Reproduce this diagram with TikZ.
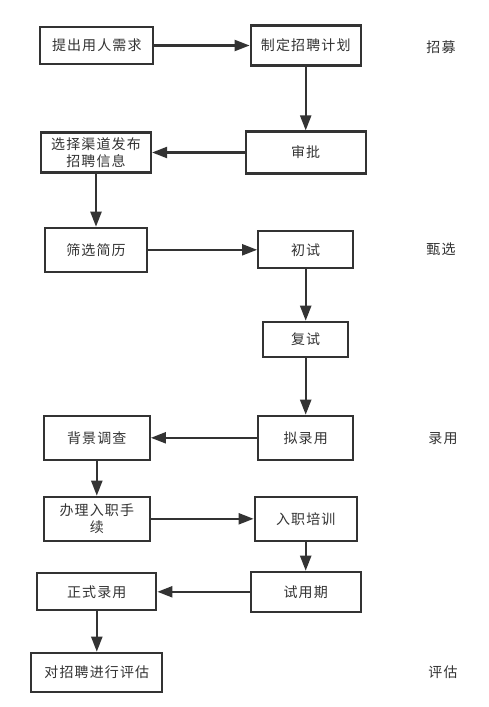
\documentclass[tikz,border=0pt]{standalone}
\usepackage{fontspec}
\newfontfamily\cjk[LetterSpace=8]{Noto Sans CJK SC}
\usetikzlibrary{arrows.meta}
\definecolor{ink}{HTML}{333333}
\begin{document}
\begin{tikzpicture}[x=1pt,y=-1pt,
  box/.style={draw=ink, line width=2.2pt, text=ink, align=center, inner sep=0pt,
    font=\cjk\fontsize{14}{17}\selectfont},
  stage/.style={text=ink, font=\cjk\fontsize{14}{17}\selectfont},
  flow/.style={draw=ink, line width=2.2pt, -{Triangle[length=15pt,width=11pt]}}]
\useasboundingbox[fill=white] (0,0) rectangle (489,707);
% recruiting
\node[box, minimum width=113, minimum height=37] (need) at (96.8,45.5){提出用人需求};
\node[box, minimum width=110, minimum height=40] (plan) at (305.7,45.5){制定招聘计划};
\node[box, minimum width=120, minimum height=42] (approve) at (305.7,152.5){审批};
\node[box, minimum width=110, minimum height=40] (publish) at (96,152.5){选择渠道发布\\招聘信息};
\node[stage] (s1) at (441,47.5){招募};
\draw[flow](need) -- (plan);
\draw[flow](plan) -- (approve);
\draw[flow](approve) -- (publish);
% screening
\node[box, minimum width=102, minimum height=44] (resume) at (96,249.8){筛选简历};
\node[box, minimum width=95, minimum height=37] (first) at (305.7,249.8){初试};
\node[box, minimum width=85, minimum height=35] (second) at (305.7,339.3){复试};
\node[stage] (s2) at (441,249){甄选};
\draw[flow](publish) -- (resume);
\draw[flow](resume) -- (first);
\draw[flow](first) -- (second);
% hiring
\node[box, minimum width=95, minimum height=44] (offer) at (305.7,437.8){拟录用};
\node[box, minimum width=106, minimum height=44] (check) at (96.8,437.8){背景调查};
\node[box, minimum width=106, minimum height=44] (entry) at (96.8,518.8){办理入职手\\续};
\node[box, minimum width=102, minimum height=44] (train) at (305.7,518.8){入职培训};
\node[box, minimum width=110, minimum height=40] (trial) at (305.7,591.8){试用期};
\node[box, minimum width=119, minimum height=37] (formal) at (96.8,591.8){正式录用};
\node[stage] (s3) at (443,439){录用};
\draw[flow](second) -- (offer);
\draw[flow](offer) -- (check);
\draw[flow](check) -- (entry);
\draw[flow](entry) -- (train);
\draw[flow](train) -- (trial);
\draw[flow](trial) -- (formal);
% evaluation
\node[box, minimum width=131, minimum height=39] (eval) at (96.8,672.3){对招聘进行评估};
\node[stage] (s4) at (443,672){评估};
\draw[flow](formal) -- (eval);

\end{tikzpicture}
\end{document}
